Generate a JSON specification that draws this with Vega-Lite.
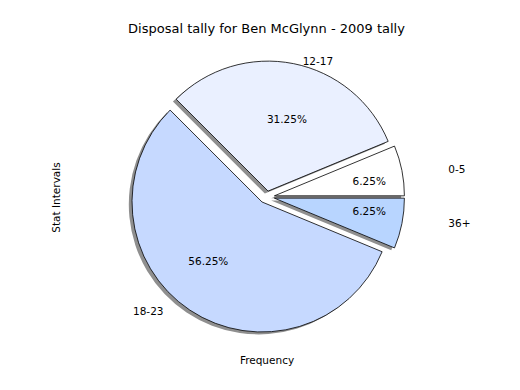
{
  "$schema": "https://vega.github.io/schema/vega-lite/v6.json",
  "autosize": "none",
  "width": 403,
  "height": 300,
  "padding": {"left": 65, "top": 47, "right": 52, "bottom": 43},
  "background": "white",
  "title": {"text": "Disposal tally for Ben McGlynn - 2009 tally", "baseline": "bottom", "offset": -2},
  "data": {"values": [
    {"interval": "0-5", "count": 1},
    {"interval": "12-17", "count": 5},
    {"interval": "18-23", "count": 9},
    {"interval": "36+", "count": 1}
  ]},
  "transform": [
    {"stack": "count", "groupby": [], "sort": [{"field": "interval", "order": "ascending"}], "offset": "normalize", "as": ["s0", "s1"]},
    {"calculate": "PI*(datum.s0+datum.s1)", "as": "a"},
    {"calculate": "0.05*cos(datum.a)", "as": "ex"},
    {"calculate": "0.05*sin(datum.a)", "as": "ey"},
    {"calculate": "datum.ex-0.02", "as": "shx"},
    {"calculate": "datum.ey-0.02", "as": "shy"},
    {"calculate": "datum.ex+0.6*cos(datum.a)", "as": "px"},
    {"calculate": "datum.ey+0.6*sin(datum.a)", "as": "py"},
    {"calculate": "datum.ex+1.1*cos(datum.a)", "as": "lx"},
    {"calculate": "datum.ey+1.1*sin(datum.a)", "as": "ly"},
    {"calculate": "format(datum.s1-datum.s0, '.2%')", "as": "pct"}
  ],
  "layer": [
    {
      "mark": {"type": "arc", "outerRadius": 130, "fill": "#8f8f8f", "stroke": null},
      "encoding": {
        "x": {"field": "shx", "type": "quantitative", "title": "Frequency", "scale": {"domain": [-1.25, 1.25], "nice": false, "zero": false}},
        "y": {"field": "shy", "type": "quantitative", "title": "Stat Intervals", "scale": {"domain": [-1.25, 1.25], "nice": false, "zero": false}},
        "theta": {"field": "s0", "type": "quantitative", "scale": {"domain": [0, 1], "range": [1.5707963, -4.712389]}},
        "theta2": {"field": "s1"}
      }
    },
    {
      "mark": {"type": "arc", "outerRadius": 130, "stroke": "black", "strokeWidth": 0.8},
      "encoding": {
        "x": {"field": "ex", "type": "quantitative", "title": "Frequency"},
        "y": {"field": "ey", "type": "quantitative", "title": "Stat Intervals"},
        "theta": {"field": "s0", "type": "quantitative"},
        "theta2": {"field": "s1"},
        "color": {"field": "interval", "type": "nominal", "legend": null,
          "scale": {"domain": ["0-5", "12-17", "18-23", "36+"], "range": ["#ffffff", "#eaf0ff", "#c6d9ff", "#b8d5ff"]}}
      }
    },
    {
      "mark": {"type": "text", "align": "center", "baseline": "middle", "fontSize": 10.5, "color": "black"},
      "encoding": {
        "x": {"field": "px", "type": "quantitative", "title": "Frequency"},
        "y": {"field": "py", "type": "quantitative", "title": "Stat Intervals"},
        "text": {"field": "pct"}
      }
    },
    {
      "transform": [{"filter": "datum.lx >= 0"}],
      "mark": {"type": "text", "align": "left", "baseline": "middle", "fontSize": 10.5, "color": "black"},
      "encoding": {
        "x": {"field": "lx", "type": "quantitative", "title": "Frequency"},
        "y": {"field": "ly", "type": "quantitative", "title": "Stat Intervals"},
        "text": {"field": "interval"}
      }
    },
    {
      "transform": [{"filter": "datum.lx < 0"}],
      "mark": {"type": "text", "align": "right", "baseline": "middle", "fontSize": 10.5, "color": "black"},
      "encoding": {
        "x": {"field": "lx", "type": "quantitative", "title": "Frequency"},
        "y": {"field": "ly", "type": "quantitative", "title": "Stat Intervals"},
        "text": {"field": "interval"}
      }
    }
  ],
  "config": {
    "font": "DejaVu Sans",
    "view": {"stroke": null},
    "title": {"font": "DejaVu Sans", "fontSize": 13, "fontWeight": "normal", "color": "black", "anchor": "middle"},
    "text": {"font": "DejaVu Sans"},
    "axis": {"domain": false, "ticks": false, "labels": false, "grid": false,
      "titleFont": "DejaVu Sans", "titleFontSize": 10.5, "titleFontWeight": "normal", "titleColor": "black"},
    "axisX": {"titlePadding": 8},
    "axisY": {"titlePadding": 4}
  }
}
